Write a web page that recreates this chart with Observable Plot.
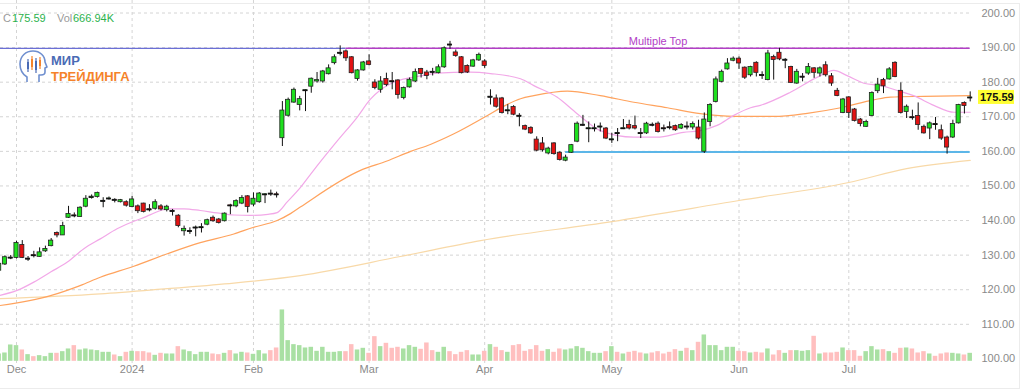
<!DOCTYPE html>
<html>
<head>
<meta charset="utf-8">
<script src="https://cdn.jsdelivr.net/npm/d3@7"></script>
<script src="https://cdn.jsdelivr.net/npm/@observablehq/plot@0.6"></script>
<style>
html, body { margin: 0; padding: 0; background: #fff; }
#wrap { position: relative; width: 1024px; height: 392px; overflow: hidden; font-family: "Liberation Sans", Arial, sans-serif; }
#wrap > svg { position: absolute; left: 0; top: 0; }
.frame { position: absolute; left: -1px; top: 3px; width: 1021px; height: 386px; border: 1px solid #ececec; box-sizing: border-box; pointer-events: none; }
.hd { position: absolute; top: 12px; font-size: 11px; line-height: 13px; white-space: nowrap; }
.g { color: #9a9a9a; }
.v { color: #2bb24c; }
</style>
</head>
<body>
<div id="wrap">
  <div class="frame"></div>
</div>
<script>
// ---------- DATA ----------
const opens = [125.5,127.3,129.1,129.2,132.9,128.8,130.0,129.5,131.1,132.6,136.4,135.7,140.8,141.5,141.0,144.0,146.6,146.8,145.5,146.2,
146.0,145.3,145.3,143.9,144.1,144.9,143.3,143.4,144.1,143.0,142.6,141.4,136.9,136.8,137.8,137.9,138.8,140.8,140.3,139.8,
144.4,144.1,144.9,147.0,144.6,145.3,147.4,147.8,147.6,163.8,170.3,174.1,173.4,177.5,178.7,180.2,180.2,182.3,185.5,188.3,
188.9,187.2,180.9,183.4,186.0,179.9,177.8,180.9,180.3,180.5,175.4,178.5,180.2,183.8,182.8,183.0,182.6,184.3,190.9,188.6,
187.2,184.7,184.5,186.3,186.0,175.6,175.3,175.3,171.7,172.8,170.3,167.3,166.8,163.4,162.3,159.4,162.3,159.6,157.3,159.6,
162.8,167.5,166.5,166.5,167.0,166.6,163.3,165.3,166.5,167.6,167.3,165.3,165.2,167.7,168.0,166.7,167.0,167.3,166.6,167.2,
166.9,166.9,159.9,168.5,174.3,180.1,183.7,186.2,186.8,184.2,182.0,185.6,182.1,180.6,187.3,188.5,186.3,184.4,179.6,181.4,
182.5,184.0,182.5,184.9,181.7,177.5,171.1,175.6,172.1,169.2,167.1,170.2,177.4,180.6,180.8,185.6,177.5,171.4,169.9,170.2,
167.1,166.6,167.9,166.1,164.0,164.0,168.1,174.0,175.4];
const highs = [128.0,129.8,129.9,134.0,134.2,129.6,131.1,132.1,132.6,134.8,136.7,139.5,144.1,142.2,144.0,147.2,147.4,148.2,146.6,146.8,
146.3,146.1,145.7,147.0,144.5,145.0,144.6,146.0,144.6,144.4,143.2,141.7,138.4,137.9,138.4,139.1,140.4,141.3,140.6,142.2,
144.7,146.0,147.2,147.2,148.0,148.1,147.8,148.8,148.2,174.4,175.4,178.3,175.9,177.8,181.2,182.8,183.4,185.0,187.9,190.5,
189.3,187.4,183.6,186.0,187.9,180.7,181.6,182.6,182.8,180.7,178.6,181.2,183.8,184.0,183.4,184.0,185.0,190.2,191.8,189.3,
187.4,185.0,186.6,188.4,186.5,177.8,176.3,175.6,173.5,173.2,170.9,167.6,167.1,164.2,164.0,161.2,162.5,159.9,158.9,162.0,
168.5,170.4,168.5,167.9,168.2,166.9,165.2,166.6,169.2,169.0,170.2,166.6,168.4,168.2,168.5,167.6,168.5,167.6,168.0,168.5,
168.5,169.0,171.1,173.8,181.5,183.5,186.8,187.3,187.3,184.4,184.6,185.9,183.0,189.2,187.8,189.8,186.8,184.6,183.7,182.5,
185.4,184.2,184.4,185.9,182.5,178.2,175.3,175.8,172.4,169.5,169.0,177.2,181.1,181.1,184.2,185.9,179.8,173.4,171.9,174.0,
167.6,168.5,169.8,167.6,164.4,169.0,173.6,174.3,177.2];
const lows = [125.0,127.0,128.7,128.9,129.0,128.2,129.2,129.4,130.8,132.4,135.0,135.7,140.6,140.8,141.0,143.7,146.2,146.5,143.7,145.9,
145.1,145.1,143.9,143.7,142.0,142.2,142.5,143.0,142.8,142.5,141.3,137.9,135.5,136.0,135.3,136.4,138.5,139.5,139.0,139.6,
141.7,143.7,144.6,142.2,144.0,145.0,144.9,147.0,146.5,161.4,169.9,173.9,171.7,171.5,176.8,179.7,179.7,182.1,185.0,187.6,
186.0,182.4,180.3,183.2,184.7,177.8,176.8,178.7,177.8,175.1,174.9,178.3,179.9,181.2,180.7,181.8,182.4,184.0,189.5,187.2,
182.4,182.5,184.3,186.0,184.0,173.4,172.5,170.8,170.6,170.3,167.1,166.0,164.9,159.9,159.8,159.0,158.9,157.2,157.0,159.4,
162.5,167.2,162.5,165.6,165.6,163.4,162.3,162.8,166.3,166.2,166.2,163.7,164.9,167.1,165.3,165.6,166.2,165.8,166.3,166.2,
166.2,163.3,159.4,167.1,174.0,179.8,183.5,185.9,183.7,180.8,181.5,181.5,180.8,180.4,180.6,186.2,183.9,179.6,179.4,180.1,
182.0,181.1,181.5,181.5,178.8,175.8,170.9,169.5,168.5,167.1,166.9,170.0,176.7,176.7,180.6,181.3,170.8,169.5,169.0,166.1,
165.0,163.4,166.1,163.2,159.2,163.7,167.9,170.8,174.3];
const closes = [127.5,129.4,129.3,133.5,129.2,129.0,129.8,130.8,131.8,134.2,135.7,138.4,141.9,141.3,143.7,146.3,146.9,148.0,145.7,146.4,
145.8,145.9,144.3,146.1,142.7,142.5,143.0,145.3,143.2,144.0,142.8,138.4,137.6,137.0,138.0,138.1,140.1,139.8,139.3,142.0,
144.2,145.6,146.5,143.9,146.3,147.8,147.6,147.6,147.4,171.8,174.9,177.8,175.1,177.7,181.0,180.6,183.1,184.0,187.2,188.5,
186.9,182.6,183.4,185.7,185.0,178.3,180.2,179.2,180.1,176.3,178.3,180.7,182.9,182.4,181.8,182.8,184.3,189.8,190.7,187.6,
182.6,182.8,186.3,187.9,184.7,175.8,172.9,171.1,171.9,170.6,170.1,166.3,165.2,160.2,160.3,160.8,159.2,157.5,158.2,161.8,
168.0,167.7,166.7,166.7,167.2,163.7,163.5,165.1,166.7,166.6,166.6,165.1,168.0,167.5,165.6,166.5,166.8,166.1,167.6,167.0,
167.9,163.7,169.2,173.4,180.8,183.0,185.4,186.8,185.4,181.3,184.4,182.7,181.9,188.3,186.4,186.6,186.5,179.8,183.0,181.6,
184.4,182.7,184.0,182.0,179.6,176.0,175.0,171.1,168.8,167.9,168.5,176.9,179.3,178.8,183.7,181.5,171.1,172.9,169.7,167.6,
165.2,168.1,167.7,163.7,161.1,167.9,173.4,173.1,175.59];
// volume, thousands of shares
const volumes = [612,695,1362,1307,945,556,389,473,389,667,667,806,1029,1307,945,1029,945,890,751,751,
528,389,751,834,806,806,695,500,667,612,612,1223,945,806,556,751,751,612,556,667,
890,612,751,695,584,890,612,890,1112,4281,1724,1390,1307,1112,1168,834,1168,751,751,806,
806,1390,945,1084,667,2057,1223,1501,1084,1168,1029,1307,1168,1001,1529,890,751,1168,806,556,
751,890,528,528,834,1390,1168,890,751,1307,1390,834,973,1307,834,973,751,1029,945,1029,
1223,1084,806,667,667,806,1223,751,612,751,834,695,612,695,806,612,751,973,834,1084,
890,1585,2196,1307,1307,890,1168,1168,834,806,695,751,695,1029,528,890,667,890,890,834,
890,2085,612,695,695,751,1112,890,890,417,806,1223,945,973,806,667,1084,1112,1029,695,
806,612,417,612,695,667,612,528,667];

// month axis: trading-day index of each month's first session
const monthLabels = ["Dec", "2024", "Feb", "Mar", "Apr", "May", "Jun", "Jul"];
const monthIdx    = [3, 23, 44, 64, 84, 106, 128, 147];

const priceTicks = [100, 110, 120, 130, 140, 150, 160, 170, 180, 190, 200];
const gridLevels = [110, 120, 130, 140, 150, 160, 170, 180, 190, 200];

// moving averages: [session index, value]
const ma20 = [[0,118.3],[3.1,119.8],[6,122.2],[8.9,125.1],[11.8,128],[14.6,131.8],[17.5,134.7],[20.4,137.6],[23.3,139.8],[24.5,140.5],
[26.2,141.7],[29.1,143.4],[32,143.4],[34.8,142.9],[37.7,142.2],[40.6,141.6],[43.5,141.5],[46.5,141.8],[48.1,142.3],[49.8,145.3],
[52.1,149.5],[54.4,154.5],[58.5,163],[62,170],[64.2,175],[66,177.8],[68.6,180.2],[72.9,181.8],[75.8,182.6],[81.5,182.9],
[85,182.5],[90.2,181],[92.5,179],[96.5,175.7],[100,170.9],[104,166],[109.8,164.1],[113.8,164.1],[118.4,165.5],[121.3,166],
[124.2,167.5],[127.1,170.4],[130,172.6],[131.7,173.3],[136.9,177.1],[141.5,181.4],[144.4,183.4],[146.7,181.9],[149.6,179.7],
[152.5,179],[155.4,177.6],[158.2,176.1],[161.7,173.3],[165.2,171.3],[168,171.3]];
const ma50 = [[0,115.4],[8.9,118.3],[14,121.2],[17.5,123.6],[23.3,126.8],[29.1,130.4],[34.8,133.6],[40.6,136.1],[43.9,138],[48.1,140],
[50.4,142],[52.1,143.9],[62.5,154.5],[67.1,157.2],[71.2,160],[74.6,162],[78.6,165],[84.1,170],[87.6,173.3],[90.2,175.2],
[92.5,176.1],[98.3,177.4],[104,176.1],[109.8,174.2],[115.6,172.6],[121.3,170.9],[127.1,170.1],[134,170.1],[139.8,171],
[145.6,172.6],[151.3,174.9],[154.2,175.7],[160,175.9],[168,176.1]];
const ma200 = [[0,117.4],[17.5,118.8],[29.1,120.3],[40.6,121.9],[52.1,124.1],[69.4,129.6],[83.3,134.2],[106,139.7],[128,145.8],
[147,151],[157,155],[168,157.4]];

// horizontal pattern lines
const levels = [
  {price: 189.8, from: -1, to: 60, color: "#6b6fd6", width: 1.2, label: ""},
  {price: 189.8, from: 60, to: 168, color: "#b23ec6", width: 1.6, label: "Multiple Top"},
  {price: 159.8, from: 98, to: 168, color: "#5cb6e8", width: 2, label: ""}
];
const lastClose = 175.59;
const lastVolume = "666.94K";

// ---------- CHART ----------
const candles = opens.map((o, k) => ({
  i: k, o, h: highs[k], l: lows[k], c: closes[k], v: volumes[k], up: closes[k] >= o
}));
const months = monthLabels.map((label, k) => ({i: monthIdx[k], label}));

const VOL_BASE = 99.3;      // volume pane baseline, in price units
const VOL_K = 0.00347;      // price units per thousand shares

function priceTag(index, scales, values, dims) {
  const ns = "http://www.w3.org/2000/svg";
  const g = document.createElementNS(ns, "g");
  const ys = scales.y || (scales.scales && scales.scales.y);
  const y = ys(lastClose);
  const x0 = dims.width - dims.marginRight + 6;
  const r = document.createElementNS(ns, "rect");
  r.setAttribute("x", x0); r.setAttribute("y", y - 7);
  r.setAttribute("width", 36); r.setAttribute("height", 14);
  r.setAttribute("fill", "#ffff33");
  const t = document.createElementNS(ns, "text");
  t.setAttribute("x", x0 + 2); t.setAttribute("y", y);
  t.setAttribute("dy", "0.36em");
  t.setAttribute("text-anchor", "start");
  t.setAttribute("font-family", '"Liberation Sans", Arial, sans-serif');
  t.setAttribute("font-size", 11); t.setAttribute("font-weight", "bold");
  t.setAttribute("fill", "#111");
  t.textContent = lastClose.toFixed(2);
  g.appendChild(r); g.appendChild(t);
  return g;
}

const chart = Plot.plot({
  width: 1024,
  height: 392,
  marginTop: 0,
  marginBottom: 29,
  marginLeft: 0,
  marginRight: 52,
  style: {fontFamily: '"Liberation Sans", Arial, sans-serif', background: "transparent", overflow: "visible"},
  x: {domain: [0, 168], range: [-1.34, 969.7], axis: null},
  y: {domain: [100, 200], range: [358.4, 12.5], axis: null},
  color: {type: "identity"},
  marks: [
    Plot.ruleY(gridLevels, {stroke: "#d4d4d4", strokeDasharray: "3,3"}),
    Plot.ruleX(monthIdx, {stroke: "#d4d4d4", strokeDasharray: "3,3"}),
    Plot.rect(candles, {
      x1: d => d.i - 0.39, x2: d => d.i + 0.39,
      y1: VOL_BASE, y2: d => VOL_BASE + d.v * VOL_K,
      fill: d => d.up ? "#a9e0a3" : "#ffbfbf"
    }),
    Plot.line(ma200, {x: d => d[0], y: d => d[1], stroke: "#f8d9a8", strokeWidth: 1.2, curve: "monotone-x"}),
    Plot.line(ma50, {x: d => d[0], y: d => d[1], stroke: "#ffa35e", strokeWidth: 1.2, curve: "monotone-x"}),
    Plot.line(ma20, {x: d => d[0], y: d => d[1], stroke: "#f2a8e8", strokeWidth: 1.2, curve: "monotone-x"}),
    Plot.ruleY(levels, {y: "price", x1: "from", x2: "to", stroke: "color", strokeWidth: "width"}),
    Plot.text(levels.filter(d => d.label), {
      x: d => (d.from + d.to) / 2, y: "price", text: "label", dy: -7,
      fill: "#b23ec6", fontSize: 11
    }),
    Plot.ruleX(candles, {x: "i", y1: "l", y2: "h", stroke: "#111", strokeWidth: 1}),
    Plot.rect(candles, {
      x1: d => d.i - 0.36, x2: d => d.i + 0.36, y1: "o", y2: "c",
      fill: d => d.up ? "#1ee01e" : "#e41212", stroke: "#222", strokeWidth: 0.8
    }),
    Plot.ruleY(candles.filter(d => Math.abs(d.c - d.o) < 0.35), {
      y: d => (d.o + d.c) / 2, x1: d => d.i - 0.42, x2: d => d.i + 0.42, stroke: "#111", strokeWidth: 1.3
    }),
    Plot.text(priceTicks, {
      y: d => d, text: d => d.toFixed(2), frameAnchor: "right", textAnchor: "start",
      dx: 9, fill: "#8a8a8a", fontSize: 11
    }),
    Plot.text(months, {
      x: "i", text: "label", frameAnchor: "bottom", dy: 9, fill: "#8a8a8a", fontSize: 11
    }),
    priceTag
  ]
});

const wrap = document.getElementById("wrap");
wrap.insertBefore(chart, wrap.firstChild);

// header readout
function addSpan(cls, left, txt) {
  const s = document.createElement("span");
  s.className = "hd " + cls;
  s.style.left = left + "px";
  s.textContent = txt;
  wrap.appendChild(s);
}
addSpan("g", 3, "C");
addSpan("v", 12, lastClose.toFixed(2));
addSpan("g", 57, "Vol");
addSpan("v", 73, lastVolume);

// watermark logo
const logo = document.createElementNS("http://www.w3.org/2000/svg", "svg");
logo.setAttribute("width", 140); logo.setAttribute("height", 40);
logo.style.position = "absolute"; logo.style.left = "18px"; logo.style.top = "50px";
logo.innerHTML = `
  <path d="M9,32 L9,27 C4,24 2,19 2,14 C2,6 8,1 15,1 C22,1 27,6 27,12 L29,17 L27,18 L27,22 C27,24 25,25 23,25 L21,25 L21,32"
        fill="none" stroke="#6f8fcf" stroke-width="1.6" stroke-linejoin="round"/>
  <g stroke-width="1.2">
    <line x1="10" y1="9" x2="10" y2="22" stroke="#4a6bb5"/><rect x="9" y="12" width="2" height="7" fill="#4a6bb5"/>
    <line x1="14" y1="6" x2="14" y2="20" stroke="#f5832a"/><rect x="13" y="9" width="2" height="8" fill="#f5832a"/>
    <line x1="18" y1="8" x2="18" y2="23" stroke="#4a6bb5"/><rect x="17" y="11" width="2" height="9" fill="#4a6bb5"/>
    <line x1="22" y1="7" x2="22" y2="19" stroke="#f5832a"/><rect x="21" y="10" width="2" height="6" fill="#f5832a"/>
  </g>
  <text x="33" y="15" font-family="Liberation Sans, Arial, sans-serif" font-weight="bold" font-size="13" fill="#4a6bb5">МИР</text>
  <text x="33" y="31" font-family="Liberation Sans, Arial, sans-serif" font-weight="bold" font-size="13" fill="#f5832a">ТРЕЙДИНГА</text>`;
wrap.appendChild(logo);
</script>
</body>
</html>
